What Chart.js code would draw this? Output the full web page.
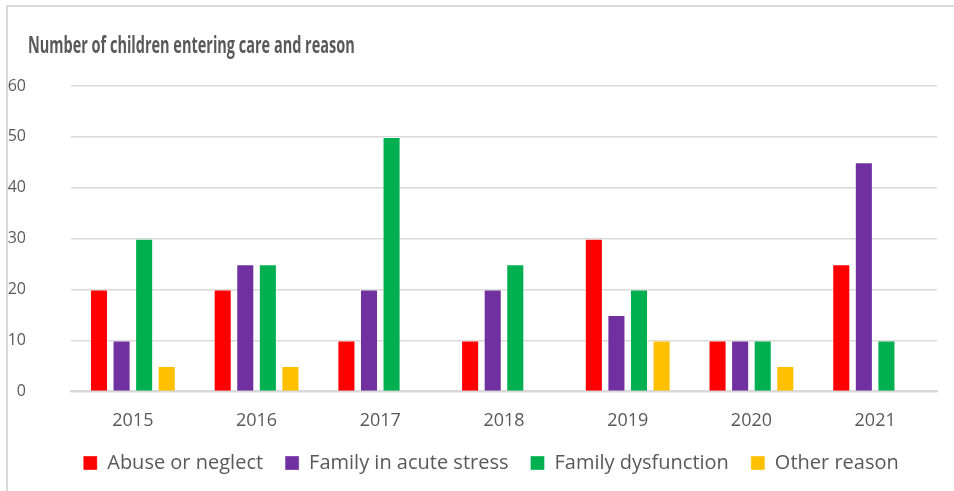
<!DOCTYPE html>
<html>
<head>
<meta charset="utf-8">
<script src="https://cdn.jsdelivr.net/npm/chart.js@4"></script>
<style>
    html, body { margin: 0; padding: 0; background: #fff; overflow: hidden; }
    .frame {
        position: absolute; left: 6px; top: 5px; width: 948px; height: 486px;
        border-top: 2px solid #d9d9d9; border-left: 2px solid #d9d9d9;
    }
    .wrap { position: absolute; left: 0; top: 0; width: 994px; height: 491px; }
    .title {
        position: absolute; left: 28px; top: 28px; white-space: nowrap;
        font-family: 'Open Sans', sans-serif; font-weight: bold; font-size: 23px;
        color: #595959; transform: scaleX(0.63); transform-origin: left top;
    }
</style>
</head>
<body>
<div class="frame"></div>
<div class="wrap"><canvas id="myBarChart"></canvas></div>
<div class="title">Number of children entering care and reason</div>
<script>
const years = ['2015', '2016', '2017', '2018', '2019', '2020', '2021'];
const abuseNeglect = [20, 20, 10, 10, 30, 10, 25];
const acuteStress = [10, 25, 20, 20, 15, 10, 45];
const dysfunction = [30, 25, 50, 25, 20, 10, 10];
const otherReason = [5, 5, 0, 0, 10, 5, 0];
const yMin = 0, yMax = 60, yStep = 10;

const textColor = '#595959';

function series(label, data, color) {
    return {
        label: label,
        data: data,
        backgroundColor: color,
        borderColor: 'rgba(255,255,255,0.35)',
        borderWidth: 1,
        categoryPercentage: 0.73,
        barPercentage: 0.8
    };
}

const ctx = document.getElementById('myBarChart').getContext('2d');
new Chart(ctx, {
    type: 'bar',
    data: {
        labels: years,
        datasets: [
            series('Abuse or neglect', abuseNeglect, '#FF0000'),
            series('Family in acute stress', acuteStress, '#7030A0'),
            series('Family dysfunction', dysfunction, '#00B050'),
            series('Other reason', otherReason, '#FFC000')
        ]
    },
    options: {
        responsive: true,
        maintainAspectRatio: false,
        animation: false,
        layout: {
            padding: { left: 8, right: 20, top: 86, bottom: 8 }
        },
        plugins: {
            title: { display: false },
            legend: {
                position: 'bottom',
                labels: {
                    color: textColor,
                    boxWidth: 14,
                    boxHeight: 14,
                    padding: 22,
                    font: { family: "'Open Sans'", size: 20 }
                }
            },
            tooltip: { enabled: false }
        },
        scales: {
            x: {
                grid: { display: false },
                border: { color: '#d9d9d9', width: 2 },
                afterFit: (scale) => { scale.height = scale.height - 12; },
                ticks: {
                    color: textColor,
                    padding: 11,
                    font: { family: "'Open Sans'", size: 18 }
                }
            },
            y: {
                min: yMin,
                max: yMax,
                afterFit: (scale) => { scale.width = 63; },
                border: { display: false },
                grid: { color: '#d9d9d9', lineWidth: 1.5, drawTicks: false },
                ticks: {
                    stepSize: yStep,
                    color: textColor,
                    padding: 45,
                    font: { family: "'Open Sans'", size: 16 }
                }
            },
            // empty spacer on the right so the legend sits where it does in the original
            spacer: {
                type: 'linear',
                position: 'right',
                min: yMin,
                max: yMax,
                afterFit: (scale) => { scale.width = 37; },
                border: { display: false },
                grid: { display: false },
                ticks: { display: false }
            }
        }
    }
});
</script>
</body>
</html>
